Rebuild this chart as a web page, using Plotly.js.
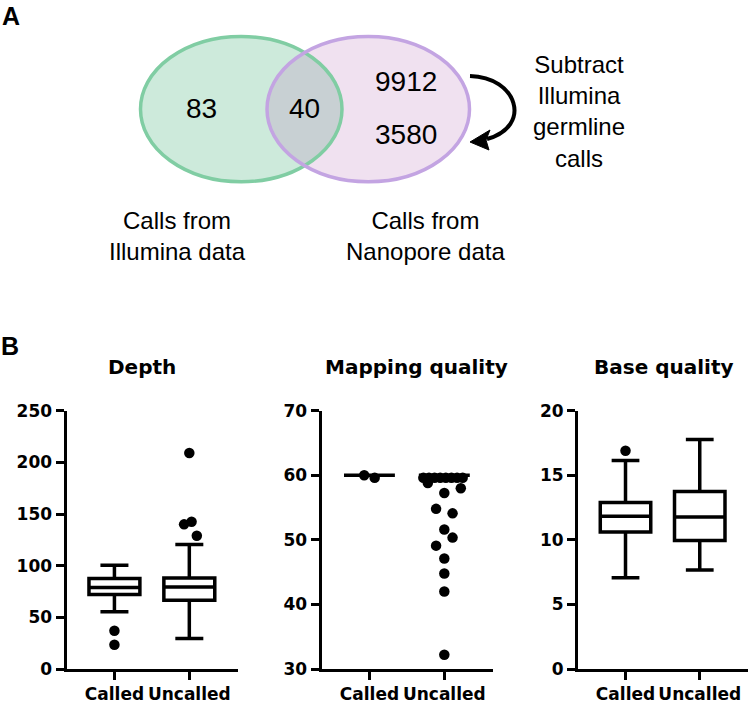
<!DOCTYPE html>
<html>
<head>
<meta charset="utf-8">
<script src="https://cdn.plot.ly/plotly-3.0.1.min.js"></script>
<style>html,body{margin:0;padding:0;background:#fff;}#chart{width:749px;height:708px;}</style>
</head>
<body>
<div id="chart"></div>
<script>
// ---------------- DATA ----------------
const vennCounts = [83, 40, 9912, 3580];            // Illumina only, overlap, Nanopore, after subtraction
const vennSetLabels = ['Calls from<br>Illumina data', 'Calls from<br>Nanopore data'];
const arrowLabel = 'Subtract<br>Illumina<br>germline<br>calls';
const panelLetters = ['A', 'B'];

const groups = ['Called', 'Uncalled'];
const panelTitles = ['Depth', 'Mapping quality', 'Base quality'];

// Depth
const depthQ1 = [72.0, 66.5];
const depthMedian = [78.8, 79.4];
const depthQ3 = [87.5, 88.0];
const depthLow = [55.3, 29.6];
const depthHigh = [100.3, 120.5];
const depthOutCalled = [37, 23.4];
const depthOutCalledSpread = [0, 0];
const depthOutUncalled = [209, 140, 142.5, 129];
const depthOutUncalledSpread = [0, -0.07, 0.03, 0.1];
const depthTicks = [0, 50, 100, 150, 200, 250];

// Mapping quality
const mqQ1 = [60, 60];
const mqMedian = [60, 60];
const mqQ3 = [60, 60];
const mqLow = [60, 60];
const mqHigh = [60, 60];
const mqOutCalled = [60, 59.6];
const mqOutCalledSpread = [-0.07, 0.07];
const mqOutUncalled = [59.6, 59.6, 59.6, 59.6, 59.6, 59.6, 59.6, 59.6, 58.8, 58.0, 57.25, 54.8, 54.1, 51.6, 50.35, 49.1, 47.1, 44.8, 42.0, 32.2];
const mqOutUncalledSpread = [-0.28, -0.205, -0.13, -0.055, 0.02, 0.095, 0.17, 0.245, -0.22, 0.22, 0, -0.11, 0.11, 0, 0.11, -0.11, 0, 0, 0, 0];
const mqTicks = [30, 40, 50, 60, 70];

// Base quality
const bqQ1 = [10.6, 9.94];
const bqMedian = [11.82, 11.77];
const bqQ3 = [12.9, 13.75];
const bqLow = [7.07, 7.66];
const bqHigh = [16.14, 17.77];
const bqOutCalled = [16.9];
const bqOutCalledSpread = [0];
const bqTicks = [0, 5, 10, 15, 20];

// ---------------- LAYOUT HELPERS ----------------
const W = 749, H = 708;
const fx = x => x / W;
const fy = y => 1 - y / H;
const P = (x, y) => fx(x) + ',' + fy(y);
const groupPos = [0, 1];

const boldFont = {family: 'DejaVu Sans', size: 17, color: '#000', weight: 'bold'};
const venFont = {family: 'Liberation Sans, Arial, sans-serif', color: '#000'};

function boxTrace(i, q1, med, q3, lo, hi) {
  const s = i === 1 ? '' : String(i);
  return {
    type: 'box', x: groupPos, q1: q1, median: med, q3: q3, lowerfence: lo, upperfence: hi,
    xaxis: 'x' + s, yaxis: 'y' + s, width: 0.68, whiskerwidth: 0.55,
    line: {color: '#000', width: 3.5}, fillcolor: '#fff', boxpoints: false,
    hoverinfo: 'skip', showlegend: false
  };
}
function outTrace(i, g, vals, spread) {
  const s = i === 1 ? '' : String(i);
  return {
    type: 'scatter', mode: 'markers', x: vals.map((v, k) => groupPos[g] + spread[k]), y: vals,
    xaxis: 'x' + s, yaxis: 'y' + s, marker: {color: '#000', size: 10.5, line: {width: 0}},
    hoverinfo: 'skip', showlegend: false, cliponaxis: false
  };
}

const traces = [
  boxTrace(1, depthQ1, depthMedian, depthQ3, depthLow, depthHigh),
  outTrace(1, 0, depthOutCalled, depthOutCalledSpread),
  outTrace(1, 1, depthOutUncalled, depthOutUncalledSpread),
  boxTrace(2, mqQ1, mqMedian, mqQ3, mqLow, mqHigh),
  outTrace(2, 0, mqOutCalled, mqOutCalledSpread),
  outTrace(2, 1, mqOutUncalled, mqOutUncalledSpread),
  boxTrace(3, bqQ1, bqMedian, bqQ3, bqLow, bqHigh),
  outTrace(3, 0, bqOutCalled, bqOutCalledSpread)
];

const yDom = [fy(669), fy(410.7)];
function xAx(d0, d1, anchor) {
  return {
    domain: [fx(d0), fx(d1)], range: [-0.64, 1.65], anchor: anchor,
    tickvals: groupPos, ticktext: groups, showline: true, linewidth: 3, linecolor: '#000',
    ticks: 'outside', ticklen: 8, tickwidth: 3, tickcolor: '#000', showgrid: false, zeroline: false,
    tickfont: boldFont, fixedrange: true
  };
}
function yAx(ticks, anchor) {
  return {
    domain: yDom, range: [ticks[0], ticks[ticks.length - 1]], anchor: anchor,
    tickvals: ticks, showline: true, linewidth: 3, linecolor: '#000',
    ticks: 'outside', ticklen: 8, tickwidth: 3, tickcolor: '#000', showgrid: false, zeroline: false,
    tickfont: boldFont, fixedrange: true
  };
}

// Venn geometry (pixel layout)
const green = {x0: 140.5, x1: 342, y0: 36.5, y1: 181.8};
const purple = {x0: 267, x1: 469.5, y0: 36.5, y1: 181.8};
const ell = (e, extra) => Object.assign({type: 'circle', xref: 'paper', yref: 'paper',
  x0: fx(e.x0), x1: fx(e.x1), y0: fy(e.y1), y1: fy(e.y0)}, extra);

const shapes = [
  ell(green, {fillcolor: '#cdeadb', line: {width: 0}}),
  ell(purple, {fillcolor: 'rgba(180,105,180,0.2)', line: {width: 0}}),
  ell(green, {fillcolor: 'rgba(0,0,0,0)', line: {color: '#80cda3', width: 3.5}}),
  ell(purple, {fillcolor: 'rgba(0,0,0,0)', line: {color: '#c3a4e2', width: 3.5}}),
  {type: 'path', xref: 'paper', yref: 'paper',
   path: 'M' + P(470, 76) + ' C' + P(517, 77) + ' ' + P(533, 126) + ' ' + P(487, 139),
   line: {color: '#000', width: 4}},
  {type: 'path', xref: 'paper', yref: 'paper',
   path: 'M' + P(470, 142) + ' L' + P(490, 130) + ' L' + P(486, 140) + ' L' + P(489, 150) + ' Z',
   fillcolor: '#000', line: {color: '#000', width: 1}}
];

const ann = (x, y, text, font, extra) => Object.assign({xref: 'paper', yref: 'paper',
  x: fx(x), y: fy(y), text: text, showarrow: false, font: font,
  xanchor: 'center', yanchor: 'middle'}, extra || {});

const numFont = Object.assign({size: 28}, venFont);
const labFont = Object.assign({size: 24}, venFont);
const titleFont = {family: 'DejaVu Sans', size: 20, color: '#000', weight: 'bold'};
const letterFont = {family: 'Liberation Sans, Arial, sans-serif', size: 25, color: '#000', weight: 'bold'};

const annotations = [
  ann(201.6, 108, String(vennCounts[0]), numFont),
  ann(304.8, 108, String(vennCounts[1]), numFont),
  ann(405.7, 81.7, String(vennCounts[2]), numFont),
  ann(405.7, 135, String(vennCounts[3]), numFont),
  ann(177, 235.5, vennSetLabels[0], labFont),
  ann(425.6, 235.5, vennSetLabels[1], labFont),
  ann(578.5, 111, arrowLabel, labFont),
  ann(11, 16, panelLetters[0], letterFont),
  ann(10, 346, panelLetters[1], letterFont),
  ann(142, 367, panelTitles[0], titleFont),
  ann(416, 367, panelTitles[1], titleFont),
  ann(664, 367, panelTitles[2], titleFont)
];

const layout = {
  width: W, height: H, margin: {l: 0, r: 0, t: 0, b: 0},
  paper_bgcolor: '#fff', plot_bgcolor: 'rgba(0,0,0,0)',
  showlegend: false, hovermode: false,
  xaxis: xAx(66.5, 238, 'y'), yaxis: yAx(depthTicks, 'x'),
  xaxis2: xAx(321.5, 493, 'y2'), yaxis2: yAx(mqTicks, 'x2'),
  xaxis3: xAx(578, 748, 'y3'), yaxis3: yAx(bqTicks, 'x3'),
  shapes: shapes, annotations: annotations
};

Plotly.newPlot('chart', traces, layout, {displayModeBar: false, staticPlot: true});
</script>
</body>
</html>
